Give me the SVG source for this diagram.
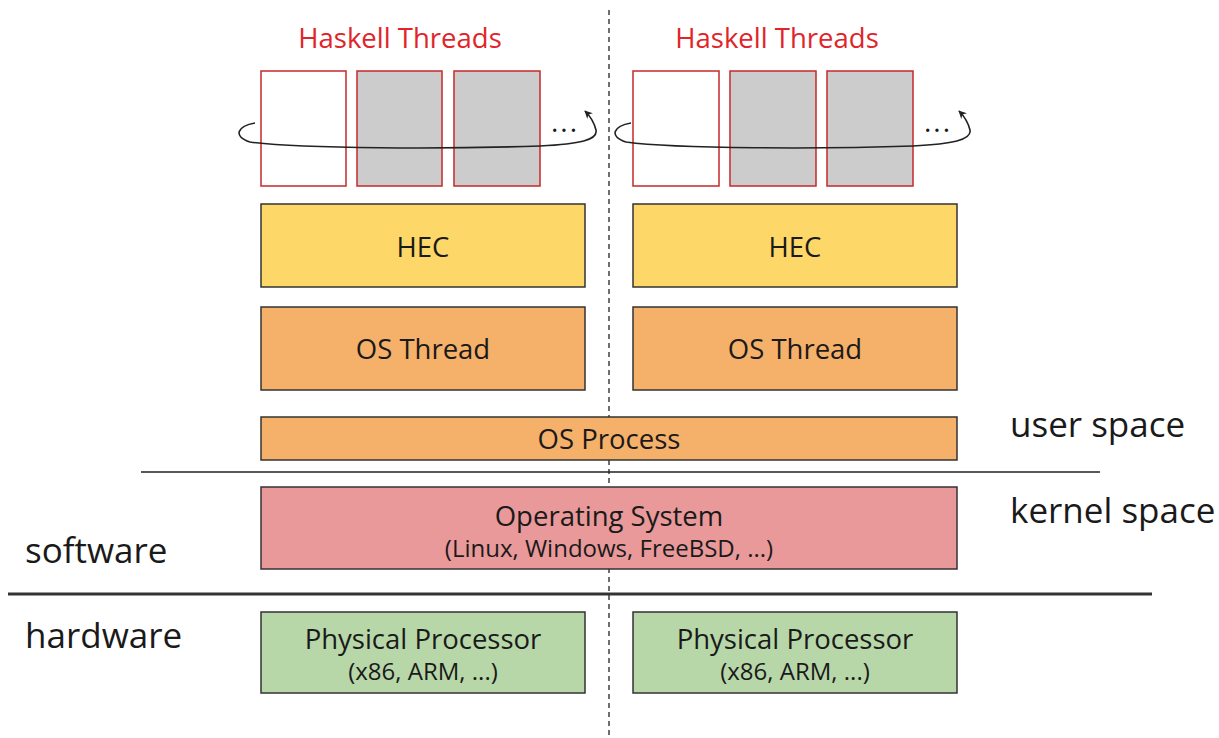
<svg xmlns="http://www.w3.org/2000/svg" width="1219" height="738" viewBox="0 0 1219 738">
<defs>
<marker id="ah" viewBox="0 0 10 10" refX="9" refY="5" markerWidth="8" markerHeight="8" markerUnits="userSpaceOnUse" orient="auto">
<path d="M0,0 L10,5 L0,10 L3,5 Z" fill="#222"/>
</marker>
</defs>
<style>
text{font-family:"Open Sans","Liberation Sans",sans-serif;fill:#1a1a1a}
.red{fill:#e0242a;font-size:27.5px}
.t{fill:#fff;stroke:#c62828;stroke-width:1.5}
.g{fill:#cccccc;stroke:#c62828;stroke-width:1.5}
.box{stroke:#333;stroke-width:1.5}
.hec{fill:#fdd868}
.ost{fill:#f5b06a}
.os{fill:#e99999}
.cpu{fill:#b7d7a8}
.lbl{font-size:27.5px;text-anchor:middle}
.sub{font-size:24px;text-anchor:middle}
.side{font-size:35px}
.dots{font-size:28px;text-anchor:middle;letter-spacing:2px}
.loop{fill:none;stroke:#222;stroke-width:1.6}
</style>
<rect width="1219" height="738" fill="#fff"/>
<g id="dividers">
<line x1="609" y1="10" x2="609" y2="738" stroke="#222" stroke-width="1.3" stroke-dasharray="5,4"/>
<line x1="141" y1="472" x2="1100" y2="472" stroke="#222" stroke-width="1.5"/>
<line x1="8" y1="594" x2="1152" y2="594" stroke="#333" stroke-width="3"/>
</g>
<g id="threads-left">
<text class="red" x="400" y="48" text-anchor="middle">Haskell Threads</text>
<rect class="t" x="261" y="71" width="85" height="115"/>
<rect class="g" x="357" y="71" width="85" height="115"/>
<rect class="g" x="454" y="71" width="86" height="115"/>
<text class="dots" x="565" y="132">...</text>
</g>
<g id="threads-right">
<text class="red" x="777" y="48" text-anchor="middle">Haskell Threads</text>
<rect class="t" x="633" y="71" width="86" height="115"/>
<rect class="g" x="730" y="71" width="86" height="115"/>
<rect class="g" x="827" y="71" width="86" height="115"/>
<text class="dots" x="938" y="132">...</text>
</g>
<g id="hec-left"><rect class="box hec" x="261" y="204" width="324" height="83"/><text class="lbl" x="423" y="257">HEC</text></g>
<g id="hec-right"><rect class="box hec" x="633" y="204" width="324" height="83"/><text class="lbl" x="795" y="257">HEC</text></g>
<g id="osthread-left"><rect class="box ost" x="261" y="307" width="324" height="83"/><text class="lbl" x="423" y="359">OS Thread</text></g>
<g id="osthread-right"><rect class="box ost" x="633" y="307" width="324" height="83"/><text class="lbl" x="795" y="359">OS Thread</text></g>
<g id="osprocess"><rect class="box ost" x="261" y="417" width="696" height="43"/><text class="lbl" x="609" y="449">OS Process</text></g>
<g id="operating-system"><rect class="box os" x="261" y="487" width="696" height="82"/><text class="lbl" x="609" y="526">Operating System</text><text class="sub" x="609" y="557">(Linux, Windows, FreeBSD, ...)</text></g>
<g id="cpu-left"><rect class="box cpu" x="261" y="612" width="324" height="81"/><text class="lbl" x="423" y="649">Physical Processor</text><text class="sub" x="423" y="680">(x86, ARM, ...)</text></g>
<g id="cpu-right"><rect class="box cpu" x="633" y="612" width="324" height="81"/><text class="lbl" x="795" y="649">Physical Processor</text><text class="sub" x="795" y="680">(x86, ARM, ...)</text></g>
<g id="labels">
<text class="side" x="1010" y="437">user space</text>
<text class="side" x="1010" y="523">kernel space</text>
<text class="side" x="25" y="563">software</text>
<text class="side" x="25" y="648">hardware</text>
</g>
<g id="connectors">
<path class="loop" d="M255,123 C238,126 232,136 250,142 C300,149 450,149 540,146 C580,144 598,140 596,130 C594,122 590,116 585,111" marker-end="url(#ah)"/>
<path class="loop" d="M631,123 C614,126 608,136 626,142 C676,149 826,149 913,146 C952,144 972,140 970,130 C968,122 964,116 959,111" marker-end="url(#ah)"/>
</g>
</svg>
